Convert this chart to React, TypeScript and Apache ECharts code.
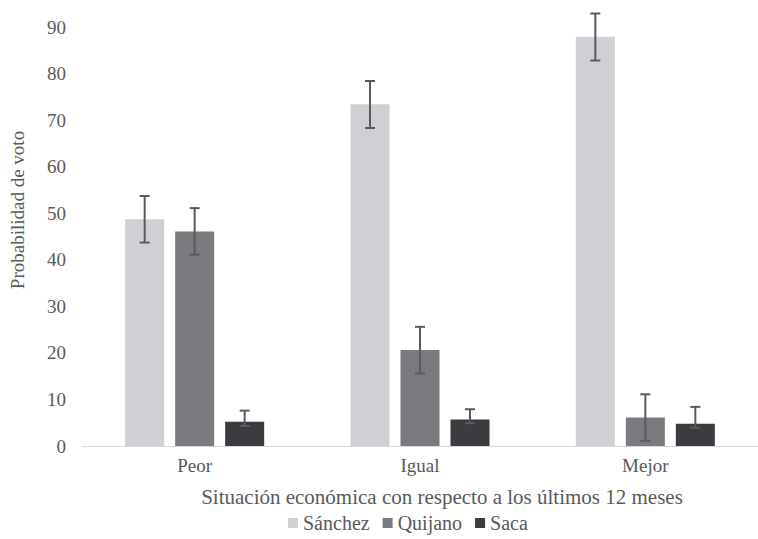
import React, { useEffect, useRef } from "react";
import * as echarts from "echarts";

const categories = ["Peor", "Igual", "Mejor"];
const seriesNames = ["Sánchez", "Quijano", "Saca"];
const sanchez = [48.7, 73.4, 87.9];
const quijano = [46.1, 20.6, 6.1];
const saca = [5.2, 5.7, 4.8];
const sanchezLow = [43.7, 68.3, 82.8];
const sanchezHigh = [53.7, 78.4, 92.9];
const quijanoLow = [41.1, 15.6, 1.1];
const quijanoHigh = [51.1, 25.6, 11.1];
const sacaLow = [4.3, 4.9, 3.9];
const sacaHigh = [7.6, 7.9, 8.4];
const yTicks = { min: 0, max: 90, interval: 10 };

const colors = ["#cfd0d4", "#7a7b7f", "#3b3c40"];
const FONT = "Liberation Serif";
const TXT = "#595959";
const BAR_W = 39;
const BAR_GAP = 11;

export default function App() {
  const ref = useRef<HTMLDivElement>(null);
  useEffect(() => {
    if (!ref.current) return;
    const chart = echarts.init(ref.current, undefined, { renderer: "svg" });
    const values = [sanchez, quijano, saca];
    const lows = [sanchezLow, quijanoLow, sacaLow];
    const highs = [sanchezHigh, quijanoHigh, sacaHigh];
    const barSeries = seriesNames.map((name, i) => ({
      name,
      type: "bar",
      data: values[i],
      barWidth: BAR_W,
      barGap: (BAR_GAP / BAR_W) * 100 + "%",
      itemStyle: { color: colors[i] },
    }));
    const errSeries = seriesNames.map((name, i) => ({
      type: "custom",
      name: name + "_err",
      data: categories.map((_, j) => [j, lows[i][j], highs[i][j]]),
      z: 10,
      renderItem: (params: any, api: any) => {
        const c = api.value(0);
        const lo = api.coord([c, api.value(1)]);
        const hi = api.coord([c, api.value(2)]);
        const off = (i - 1) * (BAR_W + BAR_GAP);
        const x = lo[0] + off;
        const cap = 5;
        const style = { stroke: "#595a5e", lineWidth: 2 };
        return {
          type: "group",
          children: [
            { type: "line", shape: { x1: x, y1: lo[1], x2: x, y2: hi[1] }, style },
            { type: "line", shape: { x1: x - cap, y1: hi[1], x2: x + cap, y2: hi[1] }, style },
            { type: "line", shape: { x1: x - cap, y1: lo[1], x2: x + cap, y2: lo[1] }, style },
          ],
        };
      },
    }));
    chart.setOption({
      animation: false,
      textStyle: { fontFamily: FONT },
      grid: { left: 82, width: 683, top: 27, bottom: 93, containLabel: false },
      legend: {
        data: seriesNames,
        left: 283,
        top: 508,
        icon: "rect",
        itemWidth: 10,
        itemHeight: 10,
        itemGap: 13,
        textStyle: { fontFamily: FONT, fontSize: 20, color: TXT, padding: [0, 0, 0, 0] },
      },
      xAxis: {
        type: "category",
        data: categories,
        axisLine: { lineStyle: { color: "#d9d9d9", width: 1 } },
        axisTick: { show: false },
        axisLabel: { fontFamily: FONT, fontSize: 19, color: TXT, margin: 10 },
      },
      yAxis: {
        type: "value",
        min: yTicks.min,
        max: yTicks.max,
        interval: yTicks.interval,
        axisLine: { show: false },
        axisTick: { show: false },
        splitLine: { show: false },
        axisLabel: { fontFamily: FONT, fontSize: 19, color: TXT, margin: 16 },
      },
      graphic: [
        {
          type: "text",
          x: 442,
          y: 497,
          style: {
            text: "Situación económica con respecto a los últimos 12 meses",
            fontFamily: FONT,
            fontSize: 21,
            fill: TXT,
            align: "center",
            verticalAlign: "middle",
          },
        },
        {
          type: "text",
          x: 17,
          y: 210,
          rotation: Math.PI / 2,
          style: {
            text: "Probabilidad de voto",
            fontFamily: FONT,
            fontSize: 19,
            fill: TXT,
            align: "center",
            verticalAlign: "middle",
          },
        },
      ],
      series: [...barSeries, ...errSeries],
    });
    return () => chart.dispose();
  }, []);
  return <div ref={ref} style={{ width: 758, height: 539, position: "absolute", left: 0, top: 0 }} />;
}
